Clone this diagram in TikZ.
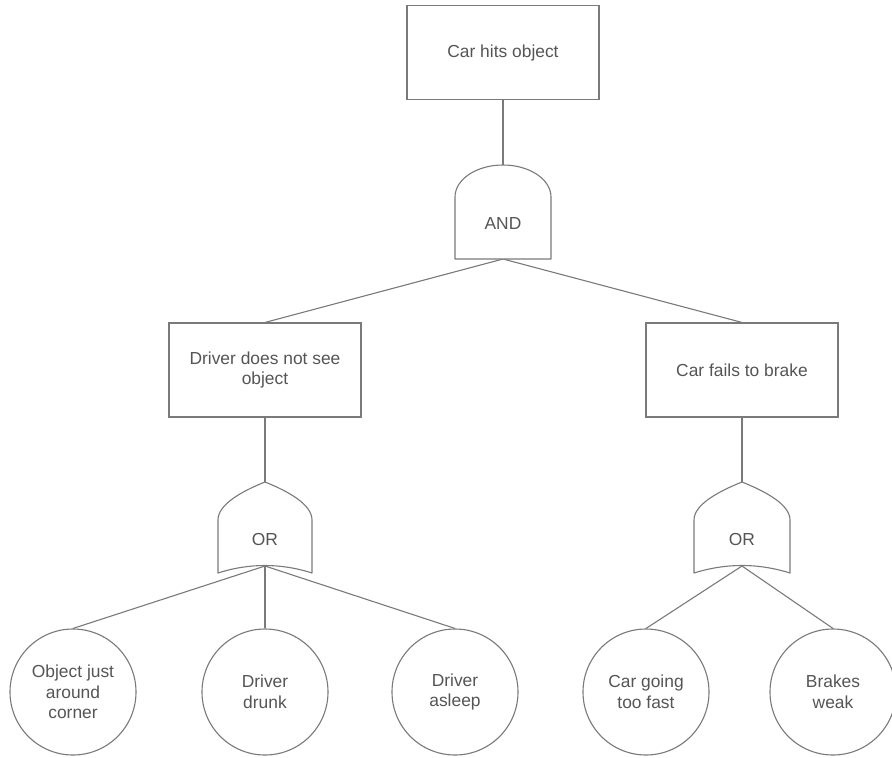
\documentclass[tikz,border=0pt]{standalone}
\usepackage{fontspec}
\setmainfont{Liberation Sans}
\begin{document}
\begin{tikzpicture}[x=1pt,y=-1pt,
  line width=1.1pt,
  event/.style={draw=lncol, fill=white, rectangle, minimum width=192pt, minimum height=94pt,
    align=center, text=txcol, font=\fontsize{17.4}{20.5}\selectfont, inner sep=2pt},
  basic/.style={draw=lncol, fill=white, circle, minimum size=126pt, inner sep=0pt,
    align=center, text=txcol, font=\fontsize{17.4}{20.5}\selectfont},
  gatelabel/.style={text=txcol, font=\fontsize{17.4}{20.5}\selectfont, inner sep=0pt},
  gate/.style={draw=lncol, fill=white, line join=round},
  wire/.style={draw=lncol}
]
\definecolor{lncol}{HTML}{7A7A7A}
\definecolor{txcol}{HTML}{555555}
\useasboundingbox[fill=white] (0,0) rectangle (892,758);

% gate anchor points
\coordinate (andtop) at (503,165);
\coordinate (andbot) at (503,259);
\coordinate (orLtop) at (265,482);
\coordinate (orLbot) at (265,566);
\coordinate (orRtop) at (742,482);
\coordinate (orRbot) at (742,566);

% events
\node[event] (top) at (503,52.5) {Car hits object};
\node[event] (driver) at (265,370) {Driver does not see\\object};
\node[event] (brake) at (742,370) {Car fails to brake};

% basic events
\node[basic] (corner) at (73,692) {Object just\\around\\corner};
\node[basic] (drunk) at (265,692) {Driver\\drunk};
\node[basic] (asleep) at (455,692) {Driver\\asleep};
\node[basic] (fast) at (646,692) {Car going\\too fast};
\node[basic] (weak) at (833,692) {Brakes\\weak};

% connectors (drawn before the gates so the gates sit on top)
\draw[wire] (top.south) -- (andtop);
\draw[wire] (andbot) -- (driver.north);
\draw[wire] (andbot) -- (brake.north);
\draw[wire] (driver.south) -- (orLtop);
\draw[wire] (brake.south) -- (orRtop);
\draw[wire] (orLbot) -- (corner.north);
\draw[wire] (orLbot) -- (drunk.north);
\draw[wire] (orLbot) -- (asleep.north);
\draw[wire] (orRbot) -- (fast.north);
\draw[wire] (orRbot) -- (weak.north);

% AND gate
\path[gate] (455,259) -- (455,197)
  arc[start angle=180, end angle=360, x radius=48, y radius=32]
  -- (551,259) -- cycle;
\node[gatelabel] (andg) at (503,224) {AND};

% OR gates
\path[gate] (218,573) -- (218,520)
  .. controls (218,505) and (240,492) .. (orLtop)
  .. controls (290,492) and (312,505) .. (312,520)
  -- (312,573)
  .. controls (281,563) and (249,563) .. (218,573) -- cycle;
\node[gatelabel] (orL) at (265,540) {OR};

\path[gate] (694,573) -- (694,520)
  .. controls (694,505) and (717,492) .. (orRtop)
  .. controls (767,492) and (790,505) .. (790,520)
  -- (790,573)
  .. controls (758,563) and (726,563) .. (694,573) -- cycle;
\node[gatelabel] (orR) at (742,540) {OR};
\end{tikzpicture}
\end{document}
